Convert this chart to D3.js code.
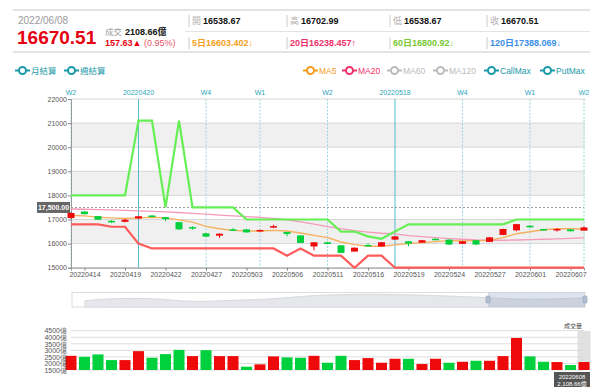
<!DOCTYPE html>
<html>
<head>
<meta charset="utf-8">
<script src="https://cdn.jsdelivr.net/npm/d3@7/dist/d3.min.js"></script>
<style>
  body { margin: 0; background: #fff; }
  svg { display: block; font-family: "Liberation Sans", Arial, "Noto Sans CJK TC", sans-serif; }
</style>
</head>
<body>
<svg id="chart" width="600" height="388"></svg>
<script>
// trading days shown in the window
const dates = ['20220413','20220414','20220415','20220418','20220419','20220420','20220421','20220422',
  '20220425','20220426','20220427','20220428','20220429','20220503','20220504','20220505','20220506',
  '20220509','20220510','20220511','20220512','20220513','20220516','20220517','20220518','20220519',
  '20220520','20220523','20220524','20220525','20220526','20220527','20220530','20220531','20220601',
  '20220602','20220606','20220607','20220608'];

const opens  = [17060,17330,17140,16945,16905,17040,17165,17095,16890,16685,16425,16330,16590,16590,16505,16670,16480,
  16340,15880,16055,15930,15670,15945,15880,16165,16095,16040,16200,16165,15990,16140,16070,16360,16550,16740,16605,16550,16590,16538.67];
const highs  = [17300,17345,17150,16975,17030,17150,17180,17110,16900,16720,16440,16420,16640,16600,16575,16780,16490,
  16345,16065,16070,15935,15840,16015,16065,16310,16110,16155,16215,16175,16105,16150,16270,16615,16815,16760,16615,16640,16600,16702.99];
const lows   = [17040,17210,16980,16850,16880,17030,17100,16930,16570,16580,16280,16240,16530,16450,16495,16640,16300,
  16020,15720,15975,15605,15660,15870,15870,16155,15890,16030,16150,15950,15980,15950,16060,16350,16510,16660,16540,16500,16500,16538.67];
const closes = [17270,17220,16990,16880,16990,17135,17110,17015,16590,16630,16290,16410,16575,16465,16565,16725,16400,
  16030,16055,15985,15615,15830,15890,16055,16300,16000,16140,16160,15960,16095,15960,16260,16605,16807,16675,16553,16606,16512.88,16670.51];

const ma5  = [17164,17151,17096,17069,17041,17069,17096,17069,16986,16890,16712,16616,16548,16521,16521,16548,16521,
  16438,16342,16247,16068,15959,15890,15890,15945,16000,16041,16082,16123,16110,16123,16137,16247,16411,16493,16575,16616,16616,16603.4];
const ma20 = [17436,17425,17410,17398,17380,17360,17340,17320,17290,17255,17220,17185,17150,17120,17090,17045,16990,
  16900,16810,16700,16620,16540,16480,16430,16400,16330,16290,16250,16210,16180,16150,16140,16140,16150,16165,16180,16200,16215,16238.457];
const callMax = [18000,18000,18000,18000,18000,21100,21100,17500,21100,17500,17500,17500,17500,17000,17000,17000,17000,
  17000,17000,17000,16500,16500,16300,16200,16500,16800,16800,16800,16800,16800,16800,16800,16800,17000,17000,17000,17000,17000,17000];
const putMax = [16800,16800,16800,16700,16700,16000,15800,15800,15800,15800,15800,15800,15800,15800,15800,15800,15500,
  15800,15500,15500,15500,15000,15500,15500,15000,15000,15000,15000,15000,15000,15000,15000,15000,15000,15000,15000,15000,15000,15000];

// 成交量 (億)
const volumes = [2583,2508,2689,2258,2258,2939,2432,2712,3038,2561,3015,2561,2561,1750,1932,2538,2462,
  2432,2583,2053,2583,2258,2409,2053,2356,2356,1955,2356,2053,2129,2205,2205,2561,3947,2538,2129,2106,1879,2108.66];

const yTicks = [15000,16000,17000,18000,19000,20000,21000,22000];
const volTicks = [1500,2000,2500,3000,3500,4000,4500];
const xLabels = ['20220414','20220419','20220422','20220427','20220503','20220506','20220511',
  '20220516','20220519','20220524','20220527','20220601','20220607'];
const settleDates  = ['20220413','20220420','20220427','20220504','20220511','20220518','20220525','20220601','20220608'];
const settleLabels = ['W2','20220420','W4','W1','W2','20220518','W4','W1','W2'];
const settleMonthly = [false,true,false,false,false,true,false,false,false];

// navigator (long history) shape, relative level 0-100
const navVals = [42,56,58,55,36,38,45,50,60,76,82,85,84,82,76,70,64,53,51,54,62];

const RED = '#ee0a0a', GREEN = '#00d03c';
const L = 71, R = 584;

const svg = d3.select('#chart');

// ---------- header ----------
const hd = svg.append('g');
hd.append('line').attr('x1',13).attr('x2',590).attr('y1',10).attr('y2',10).attr('stroke','#e3e3e3').attr('stroke-width',2);
hd.append('line').attr('x1',13).attr('x2',590).attr('y1',52).attr('y2',52).attr('stroke','#e3e3e3').attr('stroke-width',2);
hd.append('line').attr('x1',185).attr('x2',590).attr('y1',31.5).attr('y2',31.5).attr('stroke','#e3e3e3');
hd.append('text').attr('x',18).attr('y',24).attr('fill','#9a9a9a').style('font-size','10px').text('2022/06/08');
hd.append('text').attr('x',17).attr('y',44).attr('fill','#e60012').style('font-size','19px').style('font-weight','bold').text('16670.51');
hd.append('text').attr('x',105).attr('y',35).attr('fill','#9a9a9a').style('font-size','8.5px').text('成交');
hd.append('text').attr('x',125).attr('y',35).attr('fill','#111').style('font-size','9px').style('font-weight','bold').text('2108.66億');
const chg = hd.append('text').attr('x',105).attr('y',46).style('font-size','9px').style('font-weight','bold');
chg.append('tspan').attr('fill','#e60012').text('157.63▲ ');
chg.append('tspan').attr('fill','#e8556a').style('font-weight','normal').text('(0.95%)');

const cellX = [189, 287, 390, 487];
const cellLab = ['開','高','低','收'];
const cellVal = ['16538.67','16702.99','16538.67','16670.51'];
const maTxt = ['5日16603.402↓','20日16238.457↑','60日16800.92↓','120日17388.069↓'];
const maCol = ['#f5a11e','#f0306a','#78c832','#3a8fe6'];
cellX.forEach((x, i) => {
  hd.append('line').attr('x1',x).attr('x2',x).attr('y1',15).attr('y2',27).attr('stroke','#ccc');
  hd.append('line').attr('x1',x).attr('x2',x).attr('y1',37).attr('y2',49).attr('stroke','#ccc');
  hd.append('text').attr('x',x+3).attr('y',24).attr('fill','#b0b0b0').style('font-size','9px').text(cellLab[i]);
  hd.append('text').attr('x',x+14).attr('y',24).attr('fill','#111').style('font-size','9px').style('font-weight','bold').text(cellVal[i]);
  hd.append('text').attr('x',x+3).attr('y',45.5).attr('fill',maCol[i]).style('font-size','9px').style('font-weight','bold').text(maTxt[i]);
});

// ---------- legend ----------
const legends = [
  {x:15, t:'月結算', c:'#1a9aa8'}, {x:64, t:'週結算', c:'#1a9aa8'},
  {x:303, t:'MA5', c:'#f59a1e'}, {x:342, t:'MA20', c:'#f0306a'},
  {x:387, t:'MA60', c:'#bbbbbb'}, {x:433, t:'MA120', c:'#bbbbbb'},
  {x:484, t:'CallMax', c:'#1a9aa8'}, {x:540, t:'PutMax', c:'#1a9aa8'}
];
const lg = svg.append('g').selectAll('g').data(legends).enter().append('g')
  .attr('transform', d => `translate(${d.x},70.5)`);
lg.append('line').attr('x1',0).attr('x2',15).attr('stroke', d => d.c).attr('stroke-width',2);
lg.append('circle').attr('cx',7.5).attr('r',3.5).attr('fill','#fff').attr('stroke', d => d.c).attr('stroke-width',2);
lg.append('text').attr('x',16).attr('y',3).attr('fill', d => d.c).style('font-size','8.5px').text(d => d.t);

// ---------- main price chart ----------
const x = d3.scalePoint().domain(dates).range([L, R]);
const y = d3.scaleLinear().domain([15000, 22000]).range([267.7, 99]);

const bands = [[20000,21000],[18000,19000],[16000,17000]];
svg.append('g').selectAll('rect').data(bands).enter().append('rect')
  .attr('x', L).attr('width', R - L + 1)
  .attr('y', d => y(d[1])).attr('height', d => y(d[0]) - y(d[1]))
  .attr('fill', '#f0f0f0');
svg.append('g').selectAll('line').data(yTicks).enter().append('line')
  .attr('x1', L).attr('x2', R + 1).attr('y1', d => y(d)).attr('y2', d => y(d))
  .attr('stroke', '#d8d8d8');

// settlement markers
svg.append('g').selectAll('line').data(settleDates).enter().append('line')
  .attr('x1', d => x(d)).attr('x2', d => x(d)).attr('y1', 99).attr('y2', 267.7)
  .attr('stroke', (d, i) => settleMonthly[i] ? '#55bccb' : '#9ed6df')
  .attr('stroke-dasharray', (d, i) => settleMonthly[i] ? null : '2,1.5');
svg.append('g').selectAll('text').data(settleDates).enter().append('text')
  .attr('x', d => x(d)).attr('y', 95).attr('text-anchor', 'middle')
  .attr('fill', '#2aa6b8').style('font-size', '7px').text((d, i) => settleLabels[i]);

// axes
const yAxis = svg.append('g').attr('transform', `translate(${L},0)`)
  .call(d3.axisLeft(y).tickValues(yTicks).tickSize(3).tickPadding(1).tickFormat(d3.format('d')));
const xAxis = svg.append('g').attr('transform', 'translate(0,267.7)')
  .call(d3.axisBottom(x).tickValues(xLabels).tickSize(3).tickPadding(1));
[yAxis, xAxis].forEach(a => {
  a.select('.domain').attr('stroke', '#999');
  a.selectAll('.tick line').attr('stroke', '#888');
  a.selectAll('text').attr('fill', '#555').style('font-size', '7px').style('font-family', '"Liberation Sans", Arial, sans-serif');
});

// crosshair at 17500
svg.append('line').attr('x1', L).attr('x2', R).attr('y1', y(17500)).attr('y2', y(17500))
  .attr('stroke', '#999').attr('stroke-dasharray', '2,2');
svg.append('rect').attr('x', 37).attr('y', y(17500) - 5.5).attr('width', 33).attr('height', 11).attr('fill', '#666');
svg.append('text').attr('x', 53.5).attr('y', y(17500) + 2.5).attr('text-anchor', 'middle')
  .attr('fill', '#fff').style('font-size', '7px').style('font-weight', 'bold').text('17,500.00');

// lines
const idx = d3.range(dates.length);
const mkLine = arr => d3.line().x(i => x(dates[i])).y(i => y(arr[i]));
svg.append('path').attr('d', mkLine(ma20)(idx)).attr('fill', 'none').attr('stroke', '#f59bb8').attr('stroke-width', 1.3);
svg.append('path').attr('d', mkLine(putMax)(idx)).attr('fill', 'none').attr('stroke', '#ff5a5a').attr('stroke-width', 2.2);
svg.append('path').attr('d', mkLine(callMax)(idx)).attr('fill', 'none').attr('stroke', '#66ee55').attr('stroke-width', 2.2);
svg.append('path').attr('d', mkLine(ma5)(idx)).attr('fill', 'none').attr('stroke', '#f5b060').attr('stroke-width', 1.4);

// candles
const cw = 7;
const cd = svg.append('g').selectAll('g').data(idx).enter().append('g');
cd.append('line')
  .attr('x1', i => x(dates[i])).attr('x2', i => x(dates[i]))
  .attr('y1', i => y(highs[i])).attr('y2', i => y(lows[i]))
  .attr('stroke', i => closes[i] >= opens[i] ? RED : GREEN);
cd.append('rect')
  .attr('x', i => x(dates[i]) - cw / 2).attr('width', cw)
  .attr('y', i => y(Math.max(opens[i], closes[i])))
  .attr('height', i => Math.max(1.5, Math.abs(y(opens[i]) - y(closes[i]))))
  .attr('fill', i => closes[i] >= opens[i] ? RED : GREEN);

// ---------- navigator ----------
const nav = svg.append('g');
nav.append('rect').attr('x', 72).attr('y', 292.5).attr('width', 513).attr('height', 14.5)
  .attr('fill', '#fff').attr('stroke', '#dcdcdc');
const nx = d3.scaleLinear().domain([0, navVals.length - 1]).range([85, 585]);
const ny = d3.scaleLinear().domain([0, 100]).range([307, 292]);
nav.append('path')
  .attr('d', d3.area().x((d, i) => nx(i)).y0(307).y1(d => ny(d)).curve(d3.curveBasis)(navVals))
  .attr('fill', '#e6e7ea').attr('stroke', '#d8d9dd');
nav.append('rect').attr('x', 488).attr('y', 292.5).attr('width', 97).attr('height', 14.5)
  .attr('fill', '#8fa3c4').attr('fill-opacity', 0.3);
[488, 585].forEach(hx => {
  nav.append('rect').attr('x', hx - 2).attr('y', 296).attr('width', 4).attr('height', 7).attr('rx', 1)
    .attr('fill', '#b4c0d2').attr('stroke', '#8ea0b8').attr('stroke-width', 0.6);
});

// ---------- volume ----------
const vy = d3.scaleLinear().domain([1500, 4500]).range([370, 330.7]);
svg.append('g').selectAll('line').data(volTicks).enter().append('line')
  .attr('x1', L).attr('x2', R).attr('y1', d => vy(d)).attr('y2', d => vy(d)).attr('stroke', '#dddddd');
// hover shadow on last day
svg.append('rect').attr('x', x(dates[38]) - 6.5).attr('y', 331).attr('width', 13).attr('height', 39)
  .attr('fill', '#d9d9d9').attr('opacity', 0.8);
svg.append('g').selectAll('rect').data(idx).enter().append('rect')
  .attr('x', i => x(dates[i]) - 5.5).attr('width', 11)
  .attr('y', i => vy(volumes[i])).attr('height', i => 370 - vy(volumes[i]))
  .attr('fill', i => (i === 0 || closes[i] >= closes[i - 1]) ? RED : GREEN);
const vAxis = svg.append('g').attr('transform', `translate(${L - 4},0)`)
  .call(d3.axisLeft(vy).tickValues(volTicks).tickSize(0).tickPadding(0).tickFormat(d => d + '億'));
vAxis.select('.domain').remove();
vAxis.selectAll('text').attr('fill', '#555').style('font-size', '7px');
svg.append('text').attr('x', 582).attr('y', 328).attr('text-anchor', 'end')
  .attr('fill', '#444').style('font-size', '6px').text('成交量');

// tooltip label
svg.append('rect').attr('x', 554).attr('y', 372).attr('width', 36).attr('height', 15).attr('fill', '#555');
svg.append('text').attr('x', 572).attr('y', 378.5).attr('text-anchor', 'middle').attr('fill', '#fff')
  .style('font-size', '6px').text('20220608');
svg.append('text').attr('x', 572).attr('y', 385.5).attr('text-anchor', 'middle').attr('fill', '#fff')
  .style('font-size', '6px').text('2,108.66億');
</script>
</body>
</html>
